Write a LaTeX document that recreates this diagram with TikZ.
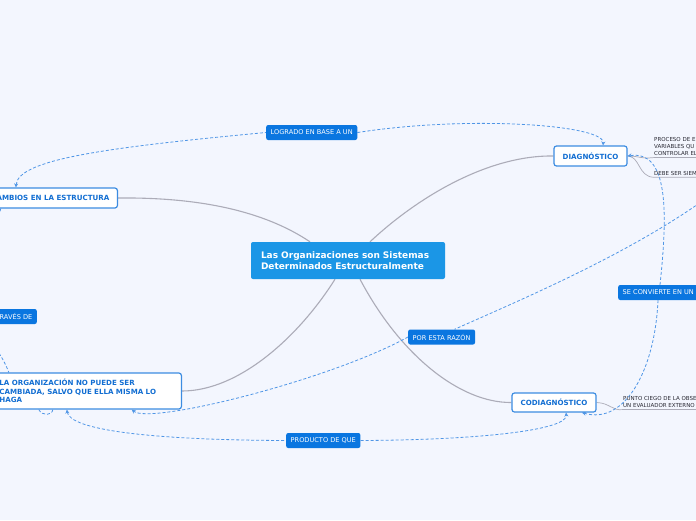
\documentclass[tikz,border=0pt]{standalone}
\usepackage{fontspec}
\setmainfont{DejaVu Sans}
\usetikzlibrary{arrows.meta}
\definecolor{pageBg}{RGB}{243, 246, 254}
\definecolor{hubBlue}{RGB}{27, 150, 230}
\definecolor{labelBlue}{RGB}{10, 118, 224}
\definecolor{topicText}{RGB}{18, 110, 210}
\definecolor{topicLine}{RGB}{60, 140, 225}
\definecolor{linkBlue}{RGB}{80, 150, 230}
\definecolor{treeGray}{RGB}{172, 172, 184}
\definecolor{noteText}{RGB}{40, 40, 50}
\pgfdeclarelayer{bg}
\pgfdeclarelayer{links}
\pgfsetlayers{bg,links,main}

\begin{document}
\begin{tikzpicture}[x=1pt, y=-1pt, >={Stealth[length=4pt,width=4pt]},
    hub/.style={fill=hubBlue, text=white, rounded corners=2pt, font=\bfseries\fontsize{9}{11}\selectfont,
      align=left, text width=174pt, inner xsep=10pt, minimum height=37pt},
    topic/.style={draw=topicLine, line width=1.2pt, fill=white, rounded corners=2.5pt, text=topicText,
      font=\bfseries\fontsize{7.1}{8.6}\selectfont, minimum height=20pt, inner xsep=8pt},
    lbl/.style={fill=labelBlue, text=white, rounded corners=2pt, font=\fontsize{6.6}{7}\selectfont,
      minimum height=15pt, inner xsep=4.5pt, inner ysep=0pt},
    note/.style={text=noteText, font=\fontsize{5.5}{7}\selectfont, align=left, inner xsep=0pt, inner ysep=2pt},
    link/.style={draw=linkBlue, line width=0.8pt, dash pattern=on 3pt off 2pt},
    tree/.style={draw=treeGray, line width=1.1pt}]
  \useasboundingbox (0,0) rectangle (696,520);
  \begin{pgfonlayer}{bg}
    \fill[pageBg] (0,0) rectangle (696,520);
  \end{pgfonlayer}

  % main topic and branches
  \node[hub] (sistemas) at (348,260.5) {Las Organizaciones son Sistemas\\Determinados Estructuralmente};
  \node[topic, minimum width=73pt] (diag) at (590.5,156) {DIAGNÓSTICO};
  \node[topic, minimum width=84pt, minimum height=19pt] (codiag) at (554,402.5) {CODIAGNÓSTICO};
  \node[topic, anchor=east, minimum width=131pt] (cambios) at (118,198) {CAMBIOS EN LA ESTRUCTURA};
  \node[topic, anchor=east, text width=174pt, align=left, minimum height=36pt] (org) at (182,391)
    {LA ORGANIZACIÓN NO PUEDE SER\\CAMBIADA, SALVO QUE ELLA MISMA LO\\HAGA};

  % notes
  \node[note, anchor=north west] (proceso) at (654,135) {PROCESO DE E\\VARIABLES QU\\CONTROLAR EL};
  \node[note, anchor=west] (debe) at (654,173) {DEBE SER SIEM};
  \node[note, anchor=north west] (punto) at (623,394) {PUNTO CIEGO DE LA OBSE\\UN EVALUADOR EXTERNO};

  % link labels
  \node[lbl, anchor=west] (logrado) at (266,132.5) {LOGRADO EN BASE A UN};
  \node[lbl, anchor=west] (razon) at (408,337) {POR ESTA RAZÓN};
  \node[lbl, anchor=west] (convierte) at (618,292.5) {SE CONVIERTE EN UN};
  \node[lbl, anchor=west] (producto) at (286,440.5) {PRODUCTO DE QUE};
  \node[lbl, anchor=east] (traves) at (37,316.5) {A TRAVÉS DE};
  \coordinate (fuera) at (720,188);

  \begin{pgfonlayer}{links}
    \clip (0,0) rectangle (696,520);
    \draw[tree] ([xshift=-38pt]sistemas.north) .. controls (270,215) and (210,197) .. (cambios.east);
    \draw[tree] ([xshift=22pt]sistemas.north) .. controls (420,195) and (490,155) .. (diag.west);
    \draw[tree] ([xshift=-13pt]sistemas.south) .. controls (300,335) and (240,391) .. (org.east);
    \draw[tree] ([xshift=12pt]sistemas.south) .. controls (400,355) and (460,403) .. (codiag.west);
    \draw[tree, line width=0.7pt] (diag.east) .. controls (640,156) and (640,159) .. (proceso.south west) -- ++(60,0);
    \draw[tree, line width=0.7pt] (diag.east) .. controls (640,156) and (638,177) .. (debe.south west) -- ++(60,0);
    \draw[tree, line width=0.7pt] (codiag.east) .. controls (610,403) and (612,411) .. (punto.south west) -- ++(80,0);

    \draw[link, <-] ([xshift=-34.5pt]cambios.north) .. controls (18,160) and (100,148) .. (logrado.west);
    \draw[link, ->] (logrado.east) .. controls (470,115) and (605,125) .. ([xshift=12.5pt]diag.north);
    \draw[link] (fuera) .. controls (640,250) and (520,300) .. ([xshift=13pt]razon.north);
    \draw[link, ->] (razon.west) .. controls (330,380) and (150,425) .. ([xshift=141pt]org.south west);
    \draw[link, <-] ([xshift=76pt]org.south west) .. controls (70,430) and (150,440) .. (producto.west);
    \draw[link, ->] (producto.east) .. controls (480,440) and (568,430) .. ([xshift=12pt]codiag.south);
    \draw[link, ->] ([xshift=42pt]convierte.north west) .. controls (668,210) and (668,150) .. (diag.east);
    \draw[link, ->] ([xshift=40pt]convierte.south west) .. controls (655,370) and (625,425) .. ([xshift=28pt]codiag.south);
    \draw[link] ([xshift=18pt]cambios.south west) .. controls (-5,230) and (-60,300) .. (traves.west);
    \draw[link] (traves.west) .. controls (-40,320) and (-5,335) .. ([xshift=18pt]org.north west);
    \draw[link] ([xshift=48pt]org.south west) .. controls (42,416) and (52,416) .. ([xshift=62pt]org.south west);
  \end{pgfonlayer}
\end{tikzpicture}
\end{document}
